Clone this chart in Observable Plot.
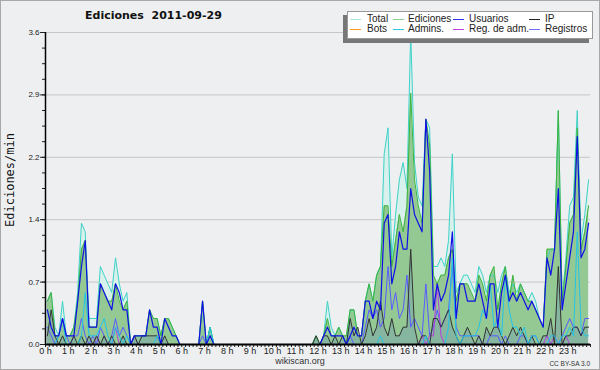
<!DOCTYPE html>
<html><head><meta charset="utf-8">
<script src="https://cdn.jsdelivr.net/npm/d3@7"></script>
<script src="https://cdn.jsdelivr.net/npm/@observablehq/plot@0.6"></script>
<style>
body{margin:0;background:#fff;}
#wrap{position:relative;width:600px;height:370px;background:#eeeff1;overflow:hidden;font-family:"Liberation Sans",Arial,sans-serif;color:#222;}
#frame{position:absolute;left:0;top:0;width:600px;height:370px;box-sizing:border-box;border:1px solid #a8a8a8;pointer-events:none;}
#chart{position:absolute;left:0;top:0;}
.title{position:absolute;left:85px;top:9px;font:bold 11px "DejaVu Sans",sans-serif;white-space:pre;color:#111;}
.ylab{position:absolute;left:10px;top:180px;transform:translate(-50%,-50%) rotate(-90deg);font:12px "DejaVu Sans Mono",monospace;white-space:nowrap;color:#111;}
.legend{position:absolute;left:347px;top:11px;width:246px;height:28px;box-sizing:border-box;background:#fff;border:1px solid #999;box-shadow:-4px 4px 0 #777;}
.sw{position:absolute;width:11px;height:1px;}
.lt{position:absolute;font-size:10px;line-height:10px;white-space:nowrap;color:#222;}
.foot{position:absolute;left:0;width:600px;top:357px;line-height:9px;text-align:center;font-size:9px;color:#333;}
.cc{position:absolute;right:10px;top:360px;line-height:7px;font-size:6.5px;color:#333;}
</style></head>
<body>
<div id="wrap">
<div id="chart"></div>
<div class="title">Ediciones  2011-09-29</div>
<div class="ylab">Ediciones/min</div>
<div class="legend" id="legend"></div>
<div class="foot">wikiscan.org</div>
<div class="cc">CC BY-SA 3.0</div>
<div id="frame"></div>
</div>
<script>
// Values in edits per minute, one per 10-minute slot (144 slots)
const total = [
0.5,0.6,0.2,0.1,0.5,0.1,0.1,0.2,0.6,1.4,1.3,0.3,
0.3,0.3,0.9,0.8,0.7,0.6,1.0,0.7,0.5,0.6,0.0,0.1,
0.1,0.1,0.1,0.4,0.3,0.3,0.1,0.3,0.3,0.2,0.1,0.0,
0,0,0,0,0,0.5,0,0.2,0,0,0,0,
0,0,0,0,0,0,0,0,0,0,0,0,
0,0,0,0,0,0,0,0,0,0,0,0.1,
0.0,0.1,0.5,0.2,0.1,0.2,0.1,0.0,0.4,0.4,0.1,0.1,
0.5,0.7,0.5,0.8,0.9,2.2,2.5,1.0,1.5,1.9,2.1,1.8,
3.6,2.1,1.7,1.6,2.6,2.5,0.9,0.9,1.0,0.9,1.2,2.2,
0.6,0.7,0.8,0.8,0.7,0.6,0.9,0.8,0.6,0.8,0.8,0.6,
0.8,0.9,0.6,0.7,0.6,0.7,0.6,0.5,0.6,0.5,0.3,0.2,
1.0,1.1,1.1,2.7,0.5,1.0,1.6,1.7,2.7,1.2,1.5,1.9];
const ediciones = [
0.5,0.6,0.1,0.1,0.3,0.1,0.1,0.2,0.5,1.1,1.2,0.2,
0.2,0.2,0.7,0.6,0.5,0.5,0.7,0.5,0.4,0.5,0.0,0.1,
0.1,0.1,0.1,0.4,0.3,0.3,0.1,0.3,0.3,0.2,0.1,0.0,
0,0,0,0,0,0.5,0,0.2,0,0,0,0,
0,0,0,0,0,0,0,0,0,0,0,0,
0,0,0,0,0,0,0,0,0,0,0,0.1,
0.0,0.1,0.3,0.1,0.1,0.2,0.1,0.1,0.4,0.4,0.1,0.1,
0.5,0.7,0.5,0.8,0.9,1.6,1.6,0.9,1.2,1.5,1.3,1.6,
2.9,1.9,1.6,1.4,2.6,2.3,0.8,0.7,0.8,0.8,1.0,1.1,
0.5,0.7,0.7,0.7,0.6,0.5,0.8,0.7,0.5,0.8,0.9,0.4,
0.7,0.9,0.5,0.8,0.5,0.7,0.6,0.5,0.5,0.4,0.3,0.2,
1.1,1.1,1.1,2.7,0.5,0.9,1.4,1.5,2.5,1.1,1.3,1.6];
const usuarios = [
0.4,0.2,0.1,0.1,0.3,0.1,0.1,0.1,0.5,0.9,1.2,0.2,
0.2,0.2,0.7,0.6,0.5,0.4,0.7,0.6,0.4,0.4,0.0,0.1,
0.1,0.1,0.1,0.4,0.2,0.2,0.0,0.3,0.2,0.1,0.1,0.0,
0,0,0,0,0,0.5,0,0.1,0,0,0,0,
0,0,0,0,0,0,0,0,0,0,0,0,
0,0,0,0,0,0,0,0,0,0,0,0,
0.0,0.1,0.2,0.1,0.1,0.1,0.1,0.0,0.1,0.2,0.1,0.1,
0.5,0.5,0.3,0.5,0.4,1.4,1.5,0.7,0.9,1.3,1.1,1.1,
1.8,1.5,1.4,1.3,2.6,2.0,0.4,0.7,0.5,0.6,0.8,1.3,
0.3,0.7,0.7,0.5,0.5,0.5,0.7,0.5,0.3,0.7,0.7,0.2,
0.6,0.8,0.5,0.6,0.5,0.6,0.5,0.4,0.5,0.4,0.3,0.2,
1.0,0.8,1.1,1.8,0.4,0.7,1.0,1.3,2.4,1.0,1.1,1.4];
const ip = [
0.1,0.4,0.1,0.0,0.1,0.0,0.0,0.1,0.0,0.1,0.0,0.1,
0.0,0.1,0.0,0.1,0.0,0.1,0.0,0.0,0.1,0.0,0.0,0.1,
0.0,0.1,0.1,0.1,0.1,0.1,0.0,0.1,0.0,0.0,0.0,0.0,
0,0,0,0,0,0,0,0,0,0,0,0,
0,0,0,0,0,0,0,0,0,0,0,0,
0,0,0,0,0,0,0,0,0,0,0,0.1,
0.0,0.1,0.1,0.0,0.1,0.0,0.1,0.0,0.3,0.1,0.2,0.0,
0.1,0.3,0.1,0.2,0.5,0.2,0.1,0.3,0.1,0.1,0.2,0.2,
1.1,0.2,0.0,0.1,0.1,0.0,0.3,0.3,0.2,0.3,0.4,0.2,
0.1,0.0,0.1,0.2,0.1,0.0,0.1,0.0,0.2,0.1,0.2,0.2,
0.1,0.0,0.1,0.2,0.1,0.2,0.1,0.0,0.1,0.0,0.0,0.1,
0.1,0.3,0.0,0.9,0.0,0.1,0.1,0.2,0.2,0.1,0.2,0.2];
const bots = new Array(144).fill(0);
const admins = [
0.0,0.0,0.0,0.1,0.3,0.0,0.0,0.0,0.0,0.1,0.6,0.1,
0.1,0.1,0.2,0.3,0.1,0.0,0.2,0.1,0.0,0.1,0.0,0.0,
0.0,0.0,0.0,0.0,0.0,0.1,0.0,0.0,0.0,0.0,0.0,0.0,
0,0,0,0,0,0,0,0.2,0,0,0,0,
0,0,0,0,0,0,0,0,0,0,0,0,
0,0,0,0,0,0,0,0,0,0,0,0,
0,0,0,0,0,0,0,0,0,0,0,0,
0,0,0,0,0.1,0,0,0,0,0,0,0,
0,0,0,0,0.1,0.0,0,0,0,0,0.2,1.0,
0.1,0.0,0.1,0.1,0.1,0.1,0.2,0.4,0.3,0.7,0.2,0.3,
0.1,0.8,0.4,0.2,0.2,0.1,0.2,0.0,0.1,0.1,0.0,0.0,
0.0,0.1,0.1,0.0,0.1,0.1,0.2,0.1,1.3,0.2,0.1,0.1];
const regAdm = [
0,0,0,0,0,0,0,0,0,0,0,0,
0,0.1,0,0,0,0,0.2,0,0,0,0,0,
0,0,0,0,0,0,0,0,0,0,0,0,
0,0,0,0,0,0,0,0,0,0,0,0,
0,0,0,0,0,0,0,0,0,0,0,0,
0,0,0,0,0,0,0,0,0,0,0,0,
0,0,0,0,0,0,0,0,0,0,0,0,
0,0,0,0,0,0,0,0,0,0,0,0,
0,0,0,0.1,0,0.1,0.1,0.7,
0.1,0,0,0,0,0,0,0,0,0,0,0,
0,0,0,0,0,0,0,0,0,0,0,0,
0,0,0,0,0.1,0,0.1,0,0,0.1,0,0,
0,0,0,0];
const registros = [
0.2,0.1,0.0,0.1,0.3,0.1,0.0,0.1,0.1,0.3,0.1,0.0,
0.1,0.0,0.2,0.1,0.0,0.1,0.3,0.1,0.2,0.1,0.0,0.1,
0,0,0,0,0,0,0,0,0,0,0,0,
0,0,0,0,0,0.1,0,0,0,0,0,0,
0,0,0,0,0,0,0,0,0,0,0,0,
0,0,0,0,0,0,0,0,0,0,0,0,
0,0,0,0,0,0,0,0,0.1,0,0,0,
0.2,0.4,0.3,0.4,0.2,0.3,0.9,0.4,0.6,0.3,0.4,0.8,
0.2,0.3,0.2,0.1,0.7,0.1,0.2,0.4,0.2,0.3,0.4,0.9,
0.2,0.1,0.1,0.1,0.1,0.1,0.1,0.0,0.0,0.1,0.1,0.1,
0.0,0.1,0.0,0.0,0.0,0.1,0.1,0.0,0.1,0.1,0.0,0.0,
0.0,0.0,0.0,0.0,0.1,0.2,0.3,0.2,0.2,0.1,0.3,0.3];

const hourTicks = d3.range(0, 24);
const yMajor = [0, 0.72, 1.44, 2.16, 2.88, 3.6];
const yLabels = ["0.0", "0.7", "1.4", "2.2", "2.9", "3.6"];
const yMinor = d3.range(0, 21).map(k => k * 0.18);
const slotTicks = d3.range(0, 145).map(k => k / 6);

const legendNames = ["Total", "Ediciones", "Usuarios", "IP", "Bots", "Admins.", "Reg. de adm.", "Registros"];
const legendColors = ["#a6e6e0", "#8fd48f", "#3030f0", "#222222", "#ff9a1f", "#2cc8e0", "#c040e0", "#7070ff"];
const lineColors = {total:"#3ed2c8", ediciones:"#3cb43c", usuarios:"#1010e6", ip:"#333333", bots:"#ff9a1f", admins:"#22c4e8", regAdm:"#b83ce0", registros:"#5a5aff"};

const rows = total.map((v, i) => ({
  t: (i + 0.5) / 6, total: v, ediciones: ediciones[i], usuarios: usuarios[i], ip: ip[i],
  bots: bots[i], admins: admins[i], regAdm: regAdm[i] ?? 0, registros: registros[i]
}));

const line = (key, w = 1) => Plot.lineY(rows, {x: "t", y: key, stroke: lineColors[key], strokeWidth: w});

const chart = Plot.plot({
  width: 600, height: 370,
  marginLeft: 45, marginRight: 10, marginTop: 32, marginBottom: 26,
  style: {background: "transparent", fontFamily: "Liberation Sans, Arial, sans-serif", color: "#222"},
  x: {domain: [0, 24]},
  y: {domain: [0, 3.6]},
  marks: [
    Plot.gridY({ticks: yMajor, stroke: "#c6c6c6", strokeOpacity: 1}),
    Plot.areaY(rows, {x: "t", y: "total", fill: "#d9f1ec"}),
    Plot.areaY(rows, {x: "t", y: "ediciones", fill: "#94c994"}),
    Plot.areaY(rows, {x: "t", y: "ip", fill: "#5070d0", fillOpacity: 0.2}),
    line("bots"),
    line("total"),
    line("ediciones"),
    line("registros"),
    line("regAdm"),
    line("ip"),
    line("admins"),
    line("usuarios", 1.2),
    Plot.axisY({ticks: yMajor, tickFormat: (d, i) => yLabels[i], tickSize: 5, tickPadding: 1, fontSize: 8, label: null}),
    Plot.axisY({ticks: yMinor, tickFormat: () => "", tickSize: 3, label: null}),
    Plot.axisX({ticks: slotTicks, tickFormat: () => "", tickSize: 3, label: null}),
    Plot.axisX({ticks: hourTicks, tickFormat: d => `${d} h`, tickSize: 0, tickPadding: 3, fontSize: 9, label: null}),
    Plot.ruleX([0], {stroke: "#000", strokeWidth: 1.5}),
    Plot.ruleY([0], {stroke: "#000", strokeWidth: 2})
  ]
});
document.getElementById("chart").appendChild(chart);

// Legend
const lg = document.getElementById("legend");
const colSw = [2, 45, 105, 181];
const colTx = [19, 60, 121, 197];
legendNames.forEach((name, k) => {
  const r = Math.floor(k / 4), c = k % 4;
  const sw = document.createElement("div");
  sw.className = "sw";
  sw.style.left = colSw[c] + "px";
  sw.style.top = (7 + r * 10) + "px";
  sw.style.background = legendColors[k];
  lg.appendChild(sw);
  const tx = document.createElement("div");
  tx.className = "lt";
  tx.style.left = colTx[c] + "px";
  tx.style.top = (2 + r * 10) + "px";
  tx.textContent = name;
  lg.appendChild(tx);
});
</script>
</body></html>
